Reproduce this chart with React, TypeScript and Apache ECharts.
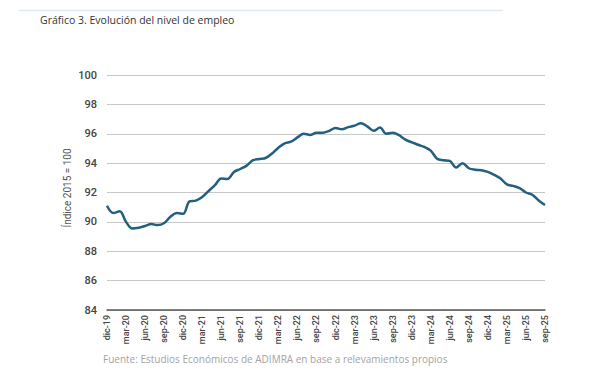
import React, { useEffect, useRef } from "react";
import * as echarts from "echarts";

const months: string[] = [
  "dic-19",
  "ene-20", "feb-20", "mar-20", "abr-20", "may-20", "jun-20", "jul-20", "ago-20", "sep-20", "oct-20", "nov-20", "dic-20",
  "ene-21", "feb-21", "mar-21", "abr-21", "may-21", "jun-21", "jul-21", "ago-21", "sep-21", "oct-21", "nov-21", "dic-21",
  "ene-22", "feb-22", "mar-22", "abr-22", "may-22", "jun-22", "jul-22", "ago-22", "sep-22", "oct-22", "nov-22", "dic-22",
  "ene-23", "feb-23", "mar-23", "abr-23", "may-23", "jun-23", "jul-23", "ago-23", "sep-23", "oct-23", "nov-23", "dic-23",
  "ene-24", "feb-24", "mar-24", "abr-24", "may-24", "jun-24", "jul-24", "ago-24", "sep-24", "oct-24", "nov-24", "dic-24",
  "ene-25", "feb-25", "mar-25", "abr-25", "may-25", "jun-25", "jul-25", "ago-25", "sep-25",
];

const empleo: number[] = [
  91.1,
  90.6, 90.72, 90.0, 89.55, 89.6, 89.72, 89.85, 89.78, 89.92, 90.35, 90.6, 90.55,
  91.4, 91.45, 91.7, 92.1, 92.5, 92.95, 92.92, 93.4, 93.6, 93.83, 94.2, 94.28,
  94.35, 94.65, 95.05, 95.35, 95.46, 95.75, 96.0, 95.92, 96.07, 96.07, 96.2, 96.4,
  96.3, 96.45, 96.55, 96.72, 96.5, 96.2, 96.42, 96.0, 96.07, 95.9, 95.6, 95.42,
  95.25, 95.1, 94.85, 94.3, 94.2, 94.15, 93.7, 94.0, 93.65, 93.55, 93.52, 93.4,
  93.2, 92.95, 92.55, 92.45, 92.3, 92.0, 91.85, 91.45, 91.15,
];

const titleText = "Gráfico 3. Evolución del nivel de empleo";
const sourceText = "Fuente: Estudios Económicos de ADIMRA en base a relevamientos propios";
const yAxisName = "Índice 2015 = 100";

const axisFont = "'Roboto', sans-serif";

export default function App() {
  const ref = useRef<HTMLDivElement>(null);
  useEffect(() => {
    if (!ref.current) return;
    const chart = echarts.init(ref.current, null, { renderer: "svg" });
    chart.setOption({
      animation: false,
      backgroundColor: "#ffffff",
      grid: { left: 107, right: 55, top: 75, bottom: 70, containLabel: false },
      graphic: [
        {
          type: "line",
          shape: { x1: 19, y1: 10.5, x2: 503, y2: 10.5 },
          style: { stroke: "#dde9f3", lineWidth: 1.5 },
        },
        {
          type: "text",
          left: 40,
          top: 14,
          style: {
            text: titleText,
            fill: "#333333",
            font: "10.5px 'Open Sans', sans-serif",
          },
        },
        {
          type: "text",
          x: 67,
          y: 188,
          rotation: Math.PI / 2,
          style: {
            text: yAxisName,
            fill: "#555555",
            font: "10px 'Roboto', sans-serif",
            align: "center",
            verticalAlign: "middle",
          },
        },
        {
          type: "text",
          left: 103,
          top: 354,
          style: {
            text: sourceText,
            fill: "#a3a3a3",
            font: "10px 'Open Sans', sans-serif",
          },
        },
        {
          type: "rect",
          shape: { x: 117, y: 375, width: 463, height: 5 },
          style: { fill: "#efefef" },
        },
      ],
      xAxis: {
        type: "category",
        data: months,
        boundaryGap: false,
        axisLine: { lineStyle: { color: "#555555", width: 1.5 } },
        axisTick: { show: false },
        axisLabel: {
          interval: 2,
          rotate: 90,
          color: "#444444",
          fontSize: 9,
          fontWeight: 500,
          fontFamily: axisFont,
          margin: 5,
        },
        splitLine: { show: false },
      },
      yAxis: {
        type: "value",
        min: 84,
        max: 100,
        interval: 2,
        axisLine: { show: false },
        axisTick: { show: false },
        axisLabel: { color: "#444444", fontSize: 11, fontWeight: 500, fontFamily: axisFont, margin: 10 },
        splitLine: { lineStyle: { color: "#c8c8c8", width: 1 } },
      },
      series: [
        {
          type: "line",
          data: empleo,
          smooth: 0.35,
          showSymbol: false,
          lineStyle: { color: "#22607f", width: 2.5 },
        },
      ],
    });
    return () => chart.dispose();
  }, []);
  return <div ref={ref} style={{ width: 600, height: 380, margin: -8 }} />;
}
